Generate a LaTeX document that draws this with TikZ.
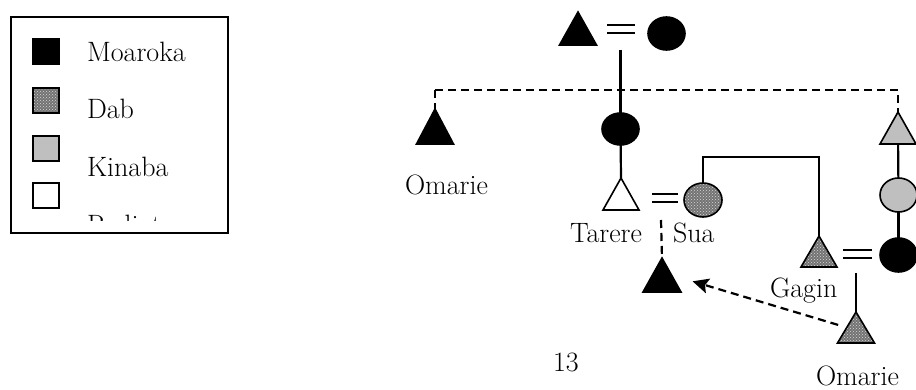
\documentclass[tikz,border=0pt]{standalone}
\usepackage{fontspec}
\usetikzlibrary{shapes.geometric,arrows.meta,patterns}
\begin{document}
\begin{tikzpicture}[x=1pt,y=-1pt,
  lw/.style={line width=2.2pt},
  dashline/.style={line width=2.2pt,dash pattern=on 8pt off 5pt},
  tri/.style={shape=isosceles triangle, shape border rotate=90, isosceles triangle stretches,
    inner sep=0pt, outer sep=0pt, minimum width=37pt, minimum height=33pt, draw, line width=1.6pt, anchor=apex},
  ell/.style={shape=ellipse, inner sep=0pt, outer sep=0pt, minimum width=37pt, minimum height=33pt, draw, line width=1.6pt},
  sq/.style={shape=rectangle, inner sep=0pt, outer sep=0pt, minimum width=26pt, minimum height=25pt, draw, line width=1.6pt, anchor=north west},
  moa/.style={fill=black},
  dab/.style={preaction={fill=black!55}, pattern=crosshatch dots, pattern color=white!85!black},
  kin/.style={fill=black!25},
  rad/.style={fill=white},
  lab/.style={font=\fontsize{28}{32}\selectfont, inner sep=0pt, outer sep=0pt, anchor=base west},
  eqs/.style={minimum width=28pt, minimum height=14pt, inner sep=0pt, outer sep=0pt,
    path picture={\draw[line width=2.2pt]
      ([yshift=4pt]path picture bounding box.west) -- ([yshift=4pt]path picture bounding box.east)
      ([yshift=-4pt]path picture bounding box.west) -- ([yshift=-4pt]path picture bounding box.east);}}
]
\useasboundingbox (0,0) rectangle (916,390);

% legend
\node[draw, line width=2.2pt, minimum width=217pt, minimum height=216pt, inner sep=0pt, anchor=north west] (LB) at (10,16) {};
\node[sq,moa] (S1) at (33,39) {};
\node[sq,dab] (S2) at (33,88) {};
\node[sq,kin] (S3) at (33,136) {};
\node[sq,rad] (S4) at (33,183) {};
\node[lab] (L1) at (87,62) {Moaroka};
\node[lab] (L2) at (87,119) {Dab};
\node[lab] (L3) at (87,177) {Kinaba};
\begin{scope}
  \clip (11,17) rectangle (226,221);
  \node[lab] (L4) at (87,235) {Rediate};
\end{scope}

% genealogy
\node[tri,moa] (T1) at (578,12) {};
\node[eqs] (E1) at (621,29) {};
\node[ell,moa] (C1) at (666.5,33.5) {};
\node[tri,moa,minimum height=35pt] (LT) at (435,109) {};
\node[ell,moa,minimum height=32pt] (C2) at (620.5,129) {};
\node[tri,rad,minimum width=36pt,minimum height=32pt] (TT) at (621,178) {};
\node[eqs,minimum width=26pt] (E2) at (665,198) {};
\node[ell,dab,minimum width=38pt,minimum height=34pt] (SC) at (703,200) {};
\node[tri,moa,minimum width=38pt,minimum height=34pt] (BT) at (662,258) {};
\node[tri,dab,minimum width=36pt,minimum height=31pt] (GT) at (819,236) {};
\node[eqs,minimum width=29pt] (E3) at (857.5,254) {};
\node[ell,moa,minimum height=34pt] (RC3) at (898.5,255) {};
\node[ell,kin,minimum height=34pt] (RC2) at (898.5,195) {};
\node[tri,kin,minimum width=36pt,minimum height=32pt] (RT) at (898,112) {};
\node[tri,dab,minimum height=31pt] (OT) at (856,312) {};

% labels
\node[lab] (N1) at (405,195) {Omarie};
\node[lab] (N2) at (570,243) {Tarere};
\node[lab] (N3) at (673,243) {Sua};
\node[lab] (N4) at (770,298) {Gagin};
\node[lab] (N5) at (816,385) {Omarie};
\node[lab] (N6) at (553,371) {13};

% connectors
\coordinate (E1d) at (620.5,50);
\draw[lw] (E1d) -- (C2);
\draw[lw] (C2) -- (TT.apex);
\draw[lw] (SC.north) -- ++(0,-26) -| (GT.apex);
\coordinate (E2d) at (661,220);
\draw[dashline] (E2d) -- (BT.apex);
\draw[lw] (RT) -- (RC2);
\draw[lw] (RC2) -- (RC3);
\coordinate (E3d) at (856,273);
\draw[lw] (E3d) -- (OT.apex);
\coordinate (DL) at (435,90);
\coordinate (DR) at (898,90);
\draw[dashline] (DL) -- (LT.apex);
\draw[dashline] (DL) -- (DR) -- (RT.apex);
\draw[dashline,-{Stealth[length=16pt,width=15pt,inset=3pt]}, shorten <=9pt, shorten >=22pt] (OT.left side) -- (BT.right side);
\end{tikzpicture}
\end{document}
